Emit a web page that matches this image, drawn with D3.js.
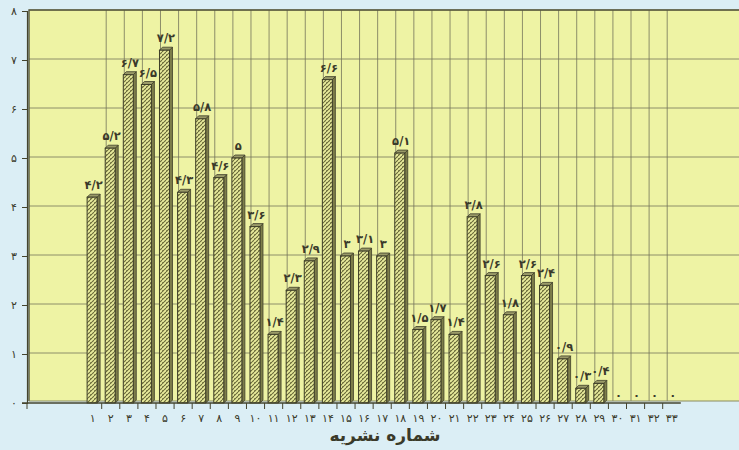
<!DOCTYPE html>
<html>
<head>
<meta charset="utf-8">
<script src="https://cdn.jsdelivr.net/npm/d3@7"></script>
<style>
  body { margin: 0; background: #dbeef5; }
  svg { display: block; }
  text { font-family: "DejaVu Sans", sans-serif; fill: #3a3a2a; }
</style>
</head>
<body>
<div class="chart"></div>
<script>
var issues = d3.range(1, 34);
var values = [4.2, 5.2, 6.7, 6.5, 7.2, 4.3, 5.8, 4.6, 5, 3.6, 1.4, 2.3, 2.9, 6.6, 3, 3.1, 3, 5.1,
  1.5, 1.7, 1.4, 3.8, 2.6, 1.8, 2.6, 2.4, 0.9, 0.3, 0.4, 0, 0, 0, 0];
var yTicks = [0, 1, 2, 3, 4, 5, 6, 7, 8];
var xTitle = "شماره نشریه";

var width = 739;
var height = 450;

// latin digits -> persian digits, decimal point -> "/"
var fa = function(v) {
  return String(v).replace(".", "/").replace(/[0-9]/g, function(c) {
    return String.fromCharCode(0x06F0 + (+c));
  });
};

var svg = d3.select(".chart").append("svg")
    .attr("width", width)
    .attr("height", height);

// hatch pattern for the bars
var defs = svg.append("defs");
var pat = defs.append("pattern")
    .attr("id", "hatch")
    .attr("patternUnits", "userSpaceOnUse")
    .attr("width", 4).attr("height", 4);
pat.append("rect").attr("width", 4).attr("height", 4).attr("fill", "#e8eb9c");
pat.append("path").attr("d", "M0,2 L2,0 M2,4 L4,2")
    .attr("stroke", "#6b6b3a").attr("stroke-width", 1.1);
pat.append("rect").attr("x", 2).attr("y", 2).attr("width", 1).attr("height", 1).attr("fill", "#8a8a50");

var x = d3.scaleBand().domain(issues).range([83.6, 680.8]).padding(0);
var y = d3.scaleLinear().domain([0, 8]).range([403, 11]);

// plot background
svg.append("rect")
    .attr("x", 29).attr("y", 10)
    .attr("width", width - 29).attr("height", 391)
    .attr("fill", "#eef3a4");

// horizontal grid
svg.selectAll(".hgrid").data(yTicks.slice(1)).enter().append("line")
    .attr("x1", 29).attr("x2", width)
    .attr("y1", function(d) { return y(d) - 1; })
    .attr("y2", function(d) { return y(d) - 1; })
    .attr("stroke", "#74745a").attr("stroke-width", 0.8);

// vertical grid (back wall, shifted by depth)
svg.selectAll(".vgrid").data(issues.slice(1)).enter().append("line")
    .attr("x1", function(d) { return x(d) + 4.5; })
    .attr("x2", function(d) { return x(d) + 4.5; })
    .attr("y1", 10).attr("y2", 401)
    .attr("stroke", "#74745a").attr("stroke-width", 0.8);

// frame left/top
svg.append("path")
    .attr("d", "M29,401 L29,10 L" + width + ",10")
    .attr("fill", "none").attr("stroke", "#55553a").attr("stroke-width", 1.4);
svg.append("line")
    .attr("x1", 29).attr("x2", width).attr("y1", 401).attr("y2", 401)
    .attr("stroke", "#8a8a60").attr("stroke-width", 1);

// bars
var bw = 10, dep = 3;
svg.selectAll(".bar").data(values).enter().append("g").attr("class", "bar")
  .each(function(d, i) {
    if (d <= 0) return;
    var g = d3.select(this);
    var x0 = x(issues[i]) + 3.5, top = y(d), bot = y(0);
    // side
    g.append("path")
        .attr("d", "M" + (x0 + bw) + "," + top + " L" + (x0 + bw + dep) + "," + (top - dep) +
          " L" + (x0 + bw + dep) + "," + (bot - dep) + " L" + (x0 + bw) + "," + bot + "Z")
        .attr("fill", "#7d7d4a").attr("stroke", "#3e3e28").attr("stroke-width", 0.8);
    // top
    g.append("path")
        .attr("d", "M" + x0 + "," + top + " L" + (x0 + dep) + "," + (top - dep) +
          " L" + (x0 + bw + dep) + "," + (top - dep) + " L" + (x0 + bw) + "," + top + "Z")
        .attr("fill", "#9a9a68").attr("stroke", "#3e3e28").attr("stroke-width", 0.8);
    // face
    g.append("rect")
        .attr("x", x0).attr("y", top)
        .attr("width", bw).attr("height", bot - top)
        .attr("fill", "url(#hatch)").attr("stroke", "#3e3e28").attr("stroke-width", 1);
  });

// value labels
svg.selectAll(".val").data(values).enter().append("text")
    .attr("x", function(d, i) { return x(issues[i]) + 10; })
    .attr("y", function(d) { return d > 0 ? y(d) - 8 : y(0) - 4; })
    .attr("text-anchor", "middle")
    .attr("font-size", 11.5)
    .attr("font-weight", "bold")
    .text(function(d) { return fa(d); });

// y axis
var yAxis = d3.axisLeft(y).tickValues(yTicks).tickSize(5).tickFormat(fa);
var gy = svg.append("g").attr("transform", "translate(27,0)").call(yAxis);
gy.select(".domain").attr("stroke", "#44442e").attr("stroke-width", 1.2);
gy.selectAll(".tick line").attr("stroke", "#44442e");
gy.selectAll(".tick text").attr("font-size", 11).attr("x", -10).attr("fill", "#3a3a2a");

// x axis
svg.append("line")
    .attr("x1", 22).attr("x2", x.range()[1])
    .attr("y1", y(0)).attr("y2", y(0))
    .attr("stroke", "#44442e").attr("stroke-width", 1.4);
svg.append("line")
    .attr("x1", 27).attr("x2", 27).attr("y1", y(0)).attr("y2", y(0) + 6)
    .attr("stroke", "#44442e");
svg.selectAll(".xtick").data(issues.slice(1)).enter().append("line")
    .attr("x1", function(d) { return x(d); })
    .attr("x2", function(d) { return x(d); })
    .attr("y1", y(0)).attr("y2", y(0) + 6)
    .attr("stroke", "#44442e");
svg.selectAll(".xlab").data(issues).enter().append("text")
    .attr("x", function(d) { return x(d) + x.bandwidth() / 2; })
    .attr("y", 422)
    .attr("text-anchor", "middle")
    .attr("font-size", 11)
    .text(function(d) { return fa(d); });

svg.append("text")
    .attr("x", 385).attr("y", 441)
    .attr("text-anchor", "middle")
    .attr("font-size", 17)
    .attr("font-weight", "bold")
    .text(xTitle);
</script>
</body>
</html>
